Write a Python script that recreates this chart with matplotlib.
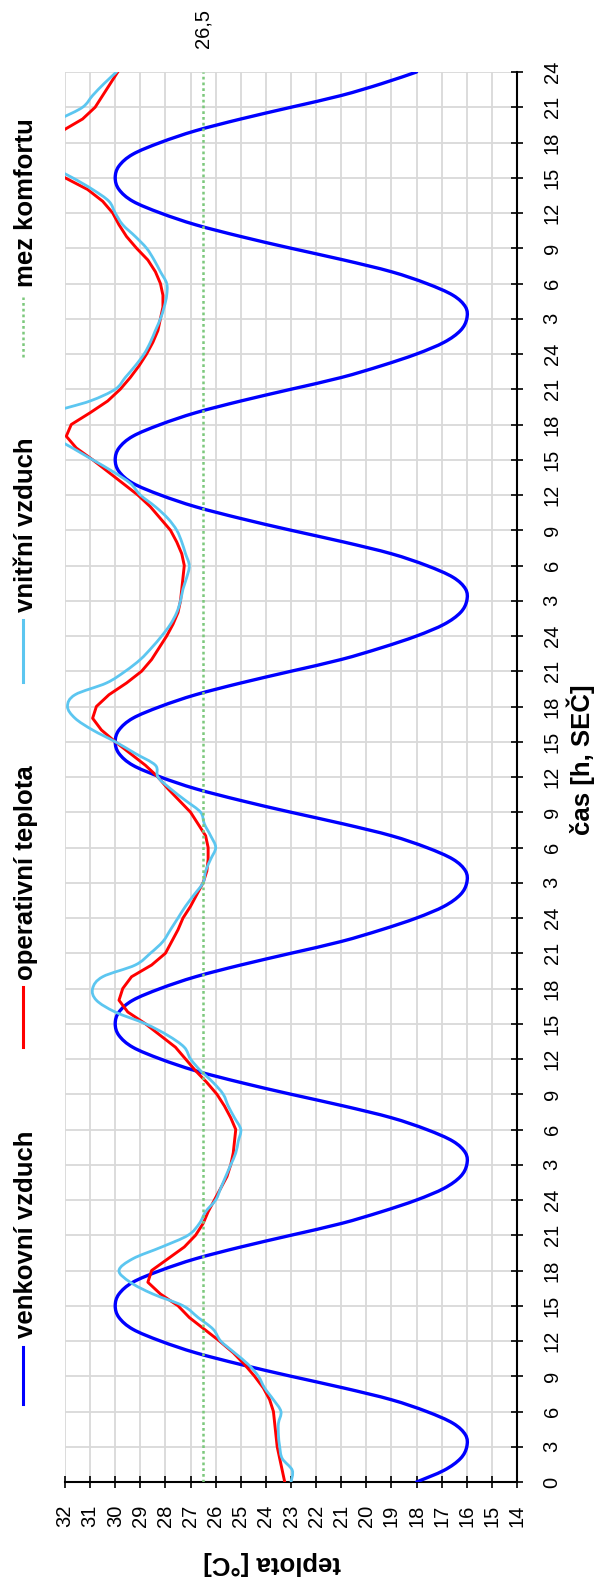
import matplotlib
matplotlib.use("Agg")
import matplotlib.pyplot as plt
from matplotlib.lines import Line2D
from matplotlib.path import Path
from matplotlib.patches import PathPatch

plt.rcParams["font.family"] = ["Liberation Sans", "DejaVu Sans"]

# ---- data: hourly temperatures over five days ----
hours = list(range(0, 121))

outdoor = [
    18.0, 16.9, 16.25, 16.0, 16.05, 16.55, 17.6, 19.0, 20.9, 23.0, 25.0, 26.8,
    28.2, 29.3, 29.85, 30.0, 29.85, 29.3, 28.2, 26.8, 25.0, 23.0, 21.0, 19.4,
    18.0, 16.9, 16.25, 16.0, 16.05, 16.55, 17.6, 19.0, 20.9, 23.0, 25.0, 26.8,
    28.2, 29.3, 29.85, 30.0, 29.85, 29.3, 28.2, 26.8, 25.0, 23.0, 21.0, 19.4,
    18.0, 16.9, 16.25, 16.0, 16.05, 16.55, 17.6, 19.0, 20.9, 23.0, 25.0, 26.8,
    28.2, 29.3, 29.85, 30.0, 29.85, 29.3, 28.2, 26.8, 25.0, 23.0, 21.0, 19.4,
    18.0, 16.9, 16.25, 16.0, 16.05, 16.55, 17.6, 19.0, 20.9, 23.0, 25.0, 26.8,
    28.2, 29.3, 29.85, 30.0, 29.85, 29.3, 28.2, 26.8, 25.0, 23.0, 21.0, 19.4,
    18.0, 16.9, 16.25, 16.0, 16.05, 16.55, 17.6, 19.0, 20.9, 23.0, 25.0, 26.8,
    28.2, 29.3, 29.85, 30.0, 29.85, 29.3, 28.2, 26.8, 25.0, 23.0, 21.0, 19.4,
    18.0,
]

operative = [
    23.25, 23.35, 23.45, 23.55, 23.6, 23.65, 23.7, 23.85, 24.1, 24.45, 24.85, 25.3,
    25.85, 26.45, 27.05, 27.5, 28.2, 28.7, 28.55, 27.9, 27.25, 26.8, 26.5, 26.3,
    26.05, 25.8, 25.55, 25.4, 25.3, 25.25, 25.2, 25.4, 25.65, 25.95, 26.35, 26.8,
    27.2, 27.6, 28.2, 28.8, 29.5, 29.85, 29.7, 29.35, 28.55, 28.0, 27.75, 27.5,
    27.3, 27.0, 26.75, 26.5, 26.35, 26.3, 26.3, 26.4, 26.7, 27.0, 27.45, 27.9,
    28.3, 28.8, 29.4, 30.0, 30.55, 30.9, 30.75, 30.25, 29.55, 28.95, 28.55, 28.25,
    27.95, 27.7, 27.5, 27.4, 27.35, 27.3, 27.25, 27.35, 27.55, 27.8, 28.2, 28.6,
    29.1, 29.7, 30.3, 30.9, 31.55, 31.95, 31.75, 31.0, 30.3, 29.8, 29.4, 29.05,
    28.75, 28.5, 28.3, 28.2, 28.1, 28.1, 28.2, 28.4, 28.7, 29.15, 29.55, 29.85,
    30.1, 30.5, 31.1, 32.0, 32.8, 33.2, 33.0, 32.1, 31.3, 30.8, 30.5, 30.2,
    29.9,
]

indoor = [
    23.0, 22.95, 23.35, 23.45, 23.5, 23.5, 23.4, 23.7, 24.05, 24.3, 24.7, 25.25,
    25.8, 26.1, 26.7, 27.3, 28.5, 29.4, 29.85, 29.3, 28.15, 27.1, 26.65, 26.4,
    26.0, 25.8, 25.6, 25.4, 25.2, 25.1, 25.0, 25.25, 25.5, 25.7, 26.1, 26.6,
    27.0, 27.25, 27.9, 28.8, 30.0, 30.75, 30.9, 30.5, 29.2, 28.6, 28.1, 27.8,
    27.5, 27.2, 26.85, 26.5, 26.4, 26.2, 26.0, 26.2, 26.45, 26.6, 27.2, 27.8,
    28.3, 28.4, 29.2, 30.0, 30.9, 31.6, 31.9, 31.6, 30.35, 29.6, 29.0, 28.55,
    28.15, 27.8, 27.55, 27.4, 27.3, 27.15, 27.05, 27.2, 27.35, 27.55, 27.9, 28.4,
    29.0, 29.4, 30.1, 30.9, 31.7, 32.5, 32.8, 32.5, 31.0, 30.0, 29.6, 29.2,
    28.85, 28.6, 28.4, 28.2, 28.05, 27.95, 27.95, 28.2, 28.45, 28.75, 29.2, 29.7,
    30.0, 30.25, 30.9, 31.7, 32.6, 33.3, 33.5, 33.0, 32.2, 31.3, 30.9, 30.45,
    29.95,
]

COMFORT = 26.5

temp_ticks = list(range(14, 33))
time_ticks = list(range(0, 121, 3))
time_labels = ["0"] + [str((t - 1) % 24 + 1) for t in time_ticks[1:]]

series_names = ["venkovní vzduch", "operativní teplota", "vnitřní vzduch", "mez komfortu"]
series_colors = ["#0000ff", "#ff0000", "#5cc6f0", "#7cc87c"]


def smoothed_path(xs, ys):
    """Cubic Bezier path through every point (Catmull-Rom style smoothing)."""
    pts = list(zip(xs, ys))
    n = len(pts)
    verts = [pts[0]]
    codes = [Path.MOVETO]
    for i in range(n - 1):
        p0 = pts[i - 1] if i > 0 else pts[i]
        p1 = pts[i]
        p2 = pts[i + 1]
        p3 = pts[i + 2] if i + 2 < n else pts[i + 1]
        c1 = (p1[0] + (p2[0] - p0[0]) / 6.0, p1[1] + (p2[1] - p0[1]) / 6.0)
        c2 = (p2[0] - (p3[0] - p1[0]) / 6.0, p2[1] - (p3[1] - p1[1]) / 6.0)
        verts += [c1, c2, p2]
        codes += [Path.CURVE4] * 3
    return Path(verts, codes)


# ---- figure (portrait, the chart is laid on its side) ----
W, H, DPI = 596, 1585, 100
fig = plt.figure(figsize=(W / DPI, H / DPI), dpi=DPI)


def fx(px):
    return px / W


def fy(py):
    return 1 - py / H


ax = fig.add_axes([fx(65), fy(1482), (517 - 65) / W, (1482 - 72) / H])
ax.set_xlim(32, 14)
ax.set_ylim(0, 120)

ax.add_patch(PathPatch(smoothed_path(outdoor, hours), fill=False,
                       edgecolor=series_colors[0], lw=2.4, zorder=3,
                       joinstyle="round", capstyle="round"))
ax.plot(operative, hours, color=series_colors[1], lw=2.1, zorder=4)
ax.add_patch(PathPatch(smoothed_path(indoor, hours), fill=False,
                       edgecolor=series_colors[2], lw=2.0, zorder=5,
                       joinstyle="round", capstyle="round"))
ax.axvline(COMFORT, color=series_colors[3], lw=1.8, dashes=(1.1, 1.2), zorder=6)

ax.grid(True, color="#d9d9d9", lw=1.3)
ax.set_axisbelow(True)
for side in ("left", "top"):
    ax.spines[side].set_visible(False)
for side in ("right", "bottom"):
    ax.spines[side].set_color("black")
    ax.spines[side].set_linewidth(1.5)

ax.set_xticks(temp_ticks)
ax.set_xticklabels([str(v) for v in temp_ticks], rotation=90)
ax.yaxis.tick_right()
ax.set_yticks(time_ticks)
ax.set_yticklabels(time_labels, rotation=90, va="center")
ax.tick_params(axis="both", direction="inout", length=9, width=1.2,
               color="black", labelsize=14.5, labelcolor="black")
ax.tick_params(axis="x", pad=12)
ax.tick_params(axis="y", pad=14)

# value label at the end of the comfort limit
ax.text(COMFORT, 123.7, f"{COMFORT:.1f}".replace(".", ","), rotation=90,
        ha="center", va="center", fontsize=14.5, clip_on=False)

# axis titles
fig.text(fx(590), fy(760), "čas [h, SEČ]", rotation=90, rotation_mode="anchor",
         ha="center", va="baseline", fontsize=18.5, fontweight="bold")
fig.text(fx(272), fy(1556), "teplota [°C]", rotation=180, rotation_mode="anchor",
         ha="center", va="baseline", fontsize=18.5, fontweight="bold")

# legend along the left edge, reading upwards
legend_rows = [
    (1404, 1347, 1338),
    (1047, 987, 980),
    (682, 620, 612),
    (357, 297, 287),
]
for i, (y0, y1, ytxt) in enumerate(legend_rows):
    style = dict(color=series_colors[i], lw=2.2)
    if i == 3:
        style.update(lw=1.8, dashes=(1.1, 1.2))
    fig.add_artist(Line2D([fx(23), fx(23)], [fy(y0), fy(y1)],
                          transform=fig.transFigure, **style))
    fig.text(fx(33), fy(ytxt), series_names[i], rotation=90, rotation_mode="anchor",
             ha="left", va="baseline", fontsize=18.5, fontweight="bold")

fig.savefig("out.png", dpi=DPI)
